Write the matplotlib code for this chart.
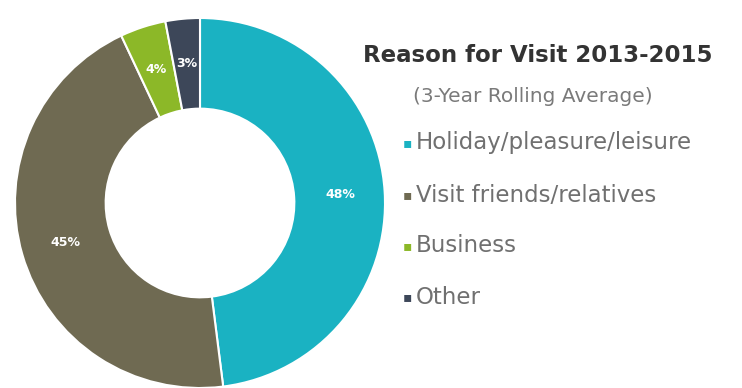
import matplotlib.pyplot as plt

reasons = ['Holiday/pleasure/leisure', 'Visit friends/relatives', 'Business', 'Other']
shares = [48, 45, 4, 3]
colors = ['#1ab2c2', '#6f6a52', '#8cb828', '#3d4759']

fig = plt.figure(figsize=(7.42, 3.88), dpi=100)
fig.patch.set_facecolor('white')

ax = fig.add_axes([15 / 742, 0, 370 / 742, 370 / 388])
wedges, texts, autotexts = ax.pie(
    shares, colors=colors, startangle=90, counterclock=False,
    autopct='%d%%', pctdistance=0.76,
    wedgeprops=dict(width=0.49, edgecolor='white', linewidth=1.5),
    textprops=dict(color='white', fontsize=9, fontweight='bold'),
)
ax.set_aspect('equal')
ax.set_xlim(-1, 1)
ax.set_ylim(-1, 1)

# title block
fig.text(538 / 742, 1 - 56 / 388, 'Reason for Visit 2013-2015', ha='center', va='center',
         fontsize=16.5, fontweight='bold', color='#333333')
fig.text(533 / 742, 1 - 97 / 388, '(3-Year Rolling Average)', ha='center', va='center',
         fontsize=14.5, color='#7a7a7a')

# legend entries
ys = [143, 195, 246, 297]
for name, col, y in zip(reasons, colors, ys):
    fig.text(407 / 742, 1 - y / 388, '\u25aa', ha='center', va='center', fontsize=10, color=col)
    fig.text(416 / 742, 1 - y / 388, name, ha='left', va='center', fontsize=16.5, color='#707070')

fig.savefig('out.png', dpi=100, facecolor='white')
